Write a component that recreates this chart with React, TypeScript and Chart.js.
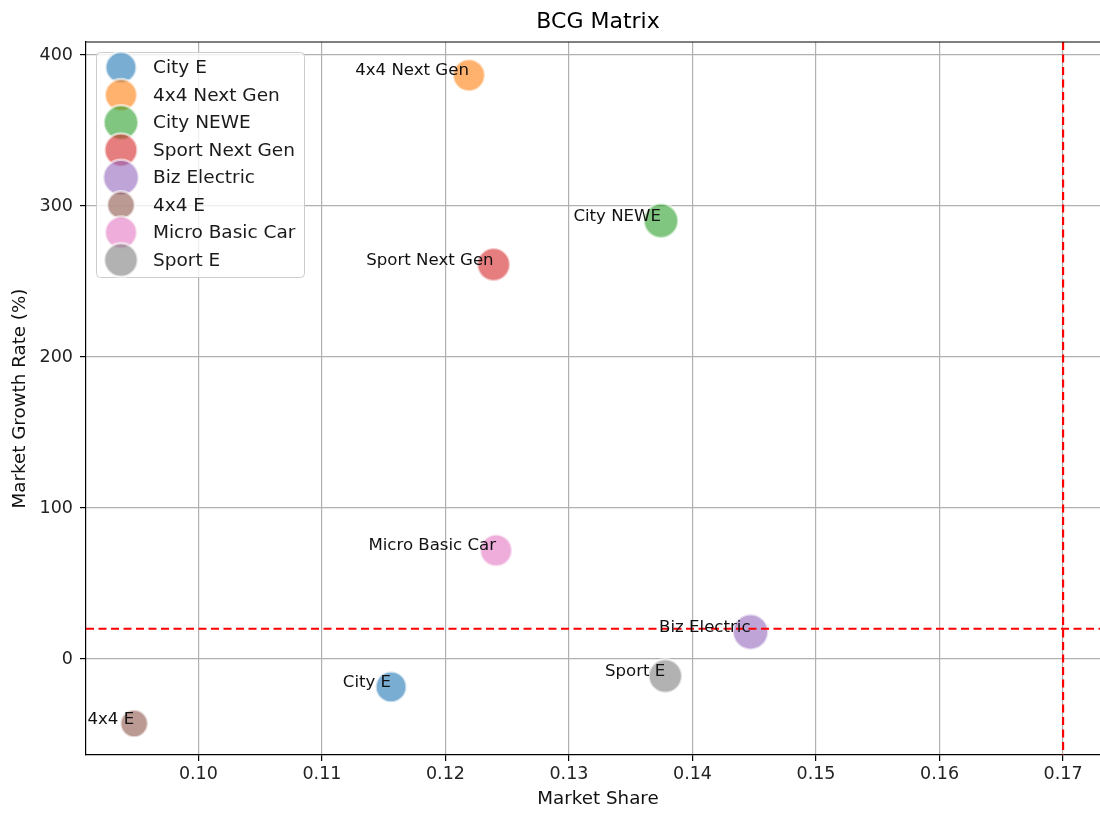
import React, { useEffect, useRef } from "react";
import { Chart, registerables } from "chart.js";

Chart.register(...registerables);

const products = [
  "City E",
  "4x4 Next Gen",
  "City NEWE",
  "Sport Next Gen",
  "Biz Electric",
  "4x4 E",
  "Micro Basic Car",
  "Sport E",
];
const marketShare = [0.1156, 0.1219, 0.13745, 0.1239, 0.1447, 0.0948, 0.1241, 0.1378];
const growthRate = [-18.5, 386.6, 290.2, 261.2, 17.9, -42.8, 71.9, -11.3];
const bubbleSize = [16.7, 17.3, 18.5, 17.7, 19, 15, 17.2, 18];
const colors = ["#1f77b4", "#ff7f0e", "#2ca02c", "#d62728", "#9467bd", "#8c564b", "#e377c2", "#7f7f7f"];
const xTicks = [0.1, 0.11, 0.12, 0.13, 0.14, 0.15, 0.16, 0.17];
const yTicks = [0, 100, 200, 300, 400];
const shareThreshold = 0.17;
const growthThreshold = 20;

const FONT = '"DejaVu Sans", sans-serif';

function rgba(hex: string, a: number) {
  const n = parseInt(hex.slice(1), 16);
  return `rgba(${(n >> 16) & 255},${(n >> 8) & 255},${n & 255},${a})`;
}

const BORDER_W = 2.5;

const overlayPlugin = {
  id: "bcgOverlay",
  afterDatasetsDraw(chart: any) {
    const { ctx, chartArea: a, scales } = chart;
    const x = scales.x;
    const y = scales.y;

    // threshold lines
    ctx.save();
    ctx.beginPath();
    ctx.rect(a.left, a.top, a.right - a.left, a.bottom - a.top);
    ctx.clip();
    ctx.strokeStyle = "#ff0000";
    ctx.lineWidth = 2.2;
    ctx.setLineDash([8, 4.5]);
    const yp = y.getPixelForValue(growthThreshold);
    ctx.beginPath();
    ctx.moveTo(a.left, yp);
    ctx.lineTo(a.right, yp);
    ctx.stroke();
    const xp = x.getPixelForValue(shareThreshold);
    ctx.beginPath();
    ctx.moveTo(xp, a.top);
    ctx.lineTo(xp, a.bottom);
    ctx.stroke();
    ctx.restore();

    // top & right spines
    ctx.save();
    ctx.strokeStyle = "#000";
    ctx.lineWidth = 1.2;
    ctx.beginPath();
    ctx.moveTo(a.left, a.top);
    ctx.lineTo(a.right, a.top);
    ctx.lineTo(a.right, a.bottom);
    ctx.stroke();
    ctx.restore();

    // point annotations
    ctx.save();
    ctx.font = `16.6px ${FONT}`;
    ctx.fillStyle = "#111";
    ctx.textAlign = "right";
    ctx.textBaseline = "alphabetic";
    products.forEach((p, i) => {
      ctx.fillText(p, x.getPixelForValue(marketShare[i]), y.getPixelForValue(growthRate[i]));
    });
    ctx.restore();

    // legend
    ctx.save();
    const lx = a.left + 10;
    const ly = a.top + 10;
    const lw = 208;
    const lh = 225;
    ctx.fillStyle = "rgba(255,255,255,0.8)";
    ctx.strokeStyle = "#cccccc";
    ctx.lineWidth = 1;
    ctx.beginPath();
    ctx.roundRect(lx + 0.5, ly + 0.5, lw, lh, 4);
    ctx.fill();
    ctx.stroke();
    ctx.font = `18.5px ${FONT}`;
    ctx.textAlign = "left";
    ctx.textBaseline = "middle";
    products.forEach((p, i) => {
      const cy = ly + 15.5 + i * 27.5;
      const cx = lx + 25;
      ctx.beginPath();
      ctx.arc(cx, cy, bubbleSize[i] - BORDER_W / 2, 0, Math.PI * 2);
      ctx.fillStyle = rgba(colors[i], 0.6);
      ctx.fill();
      ctx.lineWidth = BORDER_W;
      ctx.strokeStyle = "rgba(255,255,255,0.6)";
      ctx.stroke();
      ctx.fillStyle = "#1a1a1a";
      ctx.fillText(p, lx + 57, cy + 1);
    });
    ctx.restore();
  },
};

export default function App() {
  const ref = useRef<HTMLCanvasElement | null>(null);

  useEffect(() => {
    if (!ref.current) return;
    const datasets = products.map((p, i) => ({
      label: p,
      data: [{ x: marketShare[i], y: growthRate[i], r: bubbleSize[i] - BORDER_W / 2 }],
      backgroundColor: rgba(colors[i], 0.6),
      borderColor: "rgba(255,255,255,0.6)",
      borderWidth: BORDER_W,
    }));

    const chart = new Chart(ref.current, {
      type: "bubble",
      data: { datasets },
      plugins: [overlayPlugin],
      options: {
        animation: false,
        responsive: false,
        devicePixelRatio: 1,
        layout: { padding: 0, autoPadding: false },
        plugins: {
          legend: { display: false },
          tooltip: { enabled: false },
          title: {
            display: true,
            fullSize: false,
            text: "BCG Matrix",
            color: "#000",
            font: { family: FONT, size: 22, weight: "normal" },
            padding: { top: 9.5, bottom: 6.1 },
          },
        },
        scales: {
          x: {
            type: "linear",
            min: 0.0909,
            max: 0.1738,
            afterBuildTicks: (s: any) => {
              s.ticks = xTicks.map((v) => ({ value: v }));
            },
            afterFit: (s: any) => {
              s.height = 59;
              s.paddingLeft = 0;
              s.paddingRight = 0;
            },
            ticks: {
              color: "#222",
              font: { family: FONT, size: 17.5 },
              padding: 3,
              maxRotation: 0,
              autoSkip: false,
              callback: (v: any) => Number(v).toFixed(2),
            },
            grid: {
              color: "#b0b0b0",
              lineWidth: 1.2,
              tickLength: 6,
              tickColor: "#000",
              tickWidth: 1.2,
            },
            border: { display: true, color: "#000", width: 1.2 },
            title: {
              display: true,
              text: "Market Share",
              color: "#111",
              font: { family: FONT, size: 18.3 },
              padding: { top: 0, bottom: 4 },
            },
          },
          y: {
            type: "linear",
            min: -63.6,
            max: 408.6,
            afterBuildTicks: (s: any) => {
              s.ticks = yTicks.map((v) => ({ value: v }));
            },
            afterFit: (s: any) => {
              s.width = 86;
              s.paddingTop = 0;
              s.paddingBottom = 0;
            },
            ticks: {
              color: "#222",
              font: { family: FONT, size: 17.5 },
              padding: 7,
              autoSkip: false,
              callback: (v: any) => String(v),
            },
            grid: {
              color: "#b0b0b0",
              lineWidth: 1.2,
              tickLength: 6,
              tickColor: "#000",
              tickWidth: 1.2,
            },
            border: { display: true, color: "#000", width: 1.2 },
            title: {
              display: true,
              text: "Market Growth Rate (%)",
              color: "#111",
              font: { family: FONT, size: 18.3 },
              padding: { top: 9.5, bottom: 0 },
            },
          },
        },
      },
    } as any);

    return () => chart.destroy();
  }, []);

  return (
    <div
      style={{
        position: "fixed",
        left: 0,
        top: 0,
        width: 1100,
        height: 814,
        overflow: "hidden",
        background: "#fff",
      }}
    >
      <canvas ref={ref} width={1110} height={814} style={{ display: "block" }} />
    </div>
  );
}
